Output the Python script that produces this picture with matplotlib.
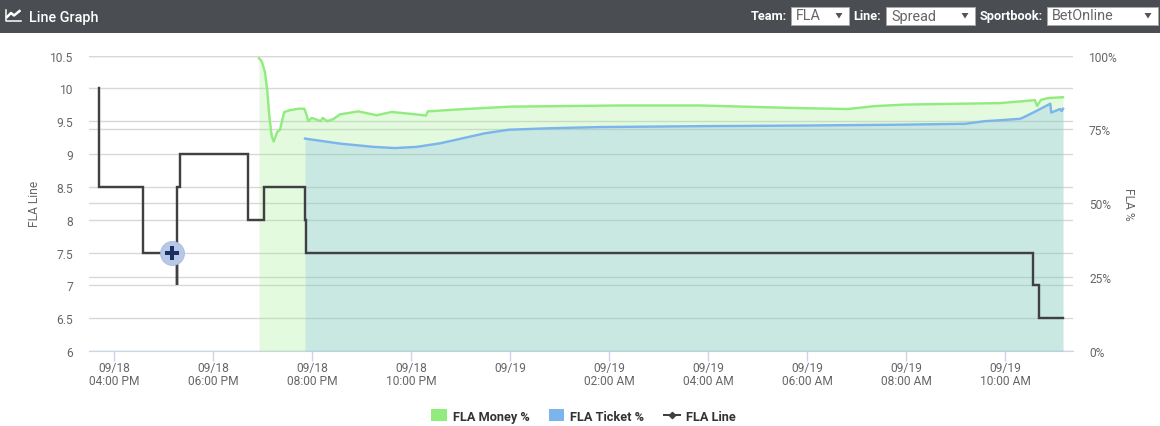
import matplotlib
matplotlib.use("Agg")
import matplotlib.pyplot as plt
from matplotlib.lines import Line2D
from matplotlib.patches import Patch, Rectangle, Polygon

plt.rcParams['font.family'] = ['Roboto', 'DejaVu Sans']

W, H = 1160, 427

# hours after 09/18 04:00 PM
money_t = [2.923, 2.958, 2.984, 3.044, 3.091, 3.131, 3.180, 3.220, 3.253, 3.293, 3.347, 3.388, 3.434, 3.549, 3.717,
           3.838, 3.879, 3.919, 3.988, 4.170, 4.210, 4.303, 4.424, 4.560, 4.929, 5.301, 5.604, 6.034, 6.297,
           6.331, 6.984, 7.994, 10.216, 11.832, 13.853, 14.822, 15.368, 15.974, 17.893, 18.600, 18.625, 18.646,
           18.680, 18.721, 18.863, 19.166]
money_pct = [99.05, 98.5, 97.7, 94.4, 88.1, 79.6, 72.8, 70.9, 72.4, 74.2, 74.8, 77.9, 80.9, 81.5, 82.0,
             82.0, 80.2, 77.8, 78.9, 77.8, 78.9, 77.8, 78.5, 80.1, 81.1, 79.8, 80.9, 80.2, 79.7,
             81.1, 81.8, 82.7, 83.1, 83.1, 82.2, 81.9, 82.9, 83.4, 83.9, 84.9, 83.6, 83.0,
             84.0, 85.0, 85.6, 85.9]
ticket_t = [3.853, 4.560, 5.232, 5.671, 6.109, 6.580, 6.984, 7.489, 7.974, 8.802, 9.812, 11.832, 13.853, 15.873, 17.186,
            17.590, 17.893, 18.297, 18.358, 18.600, 18.909, 18.929, 19.105, 19.139, 19.166]
ticket_pct = [71.9, 70.2, 69.1, 68.7, 69.1, 70.3, 71.8, 73.7, 74.9, 75.4, 75.8, 76.1, 76.3, 76.6, 76.9,
              77.8, 78.1, 78.6, 79.0, 81.0, 83.7, 80.7, 81.9, 81.2, 82.0]
line_t = [-0.31, -0.30, 0.59, 1.26, 1.27, 1.33, 2.71, 3.02, 3.85, 3.88, 18.56, 18.68, 19.16]
line_val = [10, 8.5, 7.5, 7, 8.5, 9, 8, 8.5, 8, 7.5, 7, 6.5, 6.5]
marker_t = [1.166]
marker_val = [7.5]

tick_hours = [0, 2, 4, 6, 8, 10, 12, 14, 16, 18]
tick_labels = ['09/18\n04:00 PM', '09/18\n06:00 PM', '09/18\n08:00 PM', '09/18\n10:00 PM', '09/19',
               '09/19\n02:00 AM', '09/19\n04:00 AM', '09/19\n06:00 AM', '09/19\n08:00 AM', '09/19\n10:00 AM']
left_ticks = [6, 6.5, 7, 7.5, 8, 8.5, 9, 9.5, 10, 10.5]
left_labels = ['6', '6.5', '7', '7.5', '8', '8.5', '9', '9.5', '10', '10.5']
right_ticks = [0, 25, 50, 75, 100]
right_labels = ['0%', '25%', '50%', '75%', '100%']

GREEN, BLUE, DARK, GRID, AXIS, TXT = '#90ed7d', '#7cb5ec', '#3f3f44', '#d8d8d8', '#ccd6eb', '#666666'
FS = 8.64
PX = 72 / 100
TOP, BOTTOM = 56.5, 352.2


def fx(x):
    return x / W


def fy(y):
    return 1 - y / H


fig = plt.figure(figsize=(W / 100, H / 100), dpi=100, facecolor='white')

# header bar
fig.add_artist(Rectangle((0, fy(34.4)), 1, 34.4 / H, transform=fig.transFigure, fc='#4a4d52', ec='none'))
fig.text(fx(29), fy(18), 'Line Graph', color='white', fontsize=10.4, fontweight='medium', va='center', ha='left')
icon = [(7, 15), (11, 11), (14, 13.5), (19.5, 9)]
fig.add_artist(Line2D([fx(p[0]) for p in icon], [fy(p[1] + 3) for p in icon], transform=fig.transFigure,
                      color='white', lw=1.8))
fig.add_artist(Line2D([fx(5.5), fx(5.5), fx(21)], [fy(11), fy(22), fy(22)], transform=fig.transFigure,
                      color='white', lw=1.1))


def select(label, lab_right, x0, x1, value):
    fig.text(fx(lab_right), fy(16.5), label, color='white', fontsize=9.2, fontweight='bold', va='center', ha='right')
    fig.add_artist(Rectangle((fx(x0), fy(26)), (x1 - x0) / W, 18 / H, transform=fig.transFigure,
                             fc='white', ec='#a9a9a9', lw=0.7))
    fig.text(fx(x0 + 5), fy(16.5), value, color=TXT, fontsize=10.4, va='center', ha='left')
    tx = x1 - 10
    fig.add_artist(Polygon([(fx(tx - 3.5), fy(14)), (fx(tx + 3.5), fy(14)), (fx(tx), fy(19.5))],
                           transform=fig.transFigure, fc='#555555', ec='none'))


select('Team:', 787, 791, 849, 'FLA')
select('Line:', 881, 886, 975, 'Spread')
select('Sportbook:', 1043, 1047, 1158, 'BetOnline')

# axes
rect = [fx(89), 1 - BOTTOM / H, (1073 - 89) / W, (BOTTOM - TOP) / H]
ax = fig.add_axes(rect)
ax.set_xlim(-0.511, 19.368)
ax.set_ylim(6, 10.5)
ax.set_yticks(left_ticks, left_labels)
ax.set_xticks(tick_hours, tick_labels, linespacing=1.0)
ax.grid(axis='y', color=GRID, lw=1)
ax.set_axisbelow(True)
for s in ['top', 'left', 'right']:
    ax.spines[s].set_visible(False)
ax.spines['bottom'].set_color(AXIS)
ax.tick_params(axis='x', length=10 * PX, width=1, color=AXIS, labelcolor=TXT, labelsize=FS, pad=0)
ax.tick_params(axis='y', length=0, labelcolor=TXT, labelsize=FS, pad=16 * PX)
ax.set_ylabel('FLA Line', color=TXT, fontsize=FS)
ax.yaxis.set_label_coords((41 - 89) / (1073 - 89), 0.5)

ax2 = ax.twinx()
ax2.set_ylim(0, 100)
ax2.set_yticks(right_ticks, right_labels)
ax2.grid(axis='y', color=GRID, lw=1)
ax2.set_axisbelow(True)
for s in ['top', 'left', 'right', 'bottom']:
    ax2.spines[s].set_visible(False)
ax2.tick_params(axis='y', length=0, labelcolor=TXT, labelsize=FS, pad=16 * PX)
ax2.set_ylabel('FLA %', color=TXT, fontsize=FS, rotation=270)
ax2.yaxis.set_label_coords((1135 - 89) / (1073 - 89), 0.5)
ax2.fill_between(money_t, money_pct, 0, color=GREEN, alpha=0.25, lw=0)
ax2.fill_between(ticket_t, ticket_pct, 0, color=BLUE, alpha=0.25, lw=0)
ax2.plot(money_t, money_pct, color=GREEN, lw=2.4 * PX)
ax2.plot(ticket_t, ticket_pct, color=BLUE, lw=2.4 * PX)

ax3 = ax.twinx()
ax3.set_ylim(6, 10.5)
ax3.axis('off')
ax3.plot(line_t, line_val, color=DARK, lw=2.4 * PX, drawstyle='steps-post', solid_joinstyle='miter')
ax3.plot(marker_t, marker_val, ls='none', marker='o', ms=24 * PX, mfc='#b7c7e6', mec='#a5b6dc', mew=0.5, zorder=5)
ax3.plot(marker_t, marker_val, ls='none', marker='P', ms=14 * PX, mfc='#1b2f63', mec='#1b2f63', mew=0, zorder=6)

# legend
handles = [Patch(fc=GREEN, ec='none'), Patch(fc=BLUE, ec='none'),
           Line2D([], [], color=DARK, lw=2 * PX, marker='D', ms=3.2)]
leg = fig.legend(handles, ['FLA Money %', 'FLA Ticket %', 'FLA Line'], ncol=3, loc='center',
                 bbox_to_anchor=(fx(583), fy(417)), frameon=False, prop={'size': 9.2, 'weight': 'bold'},
                 handlelength=1.25, handleheight=1.0, handletextpad=0.47, columnspacing=1.5)
for t in leg.get_texts():
    t.set_color('#333333')

fig.savefig('out.png', dpi=100)
